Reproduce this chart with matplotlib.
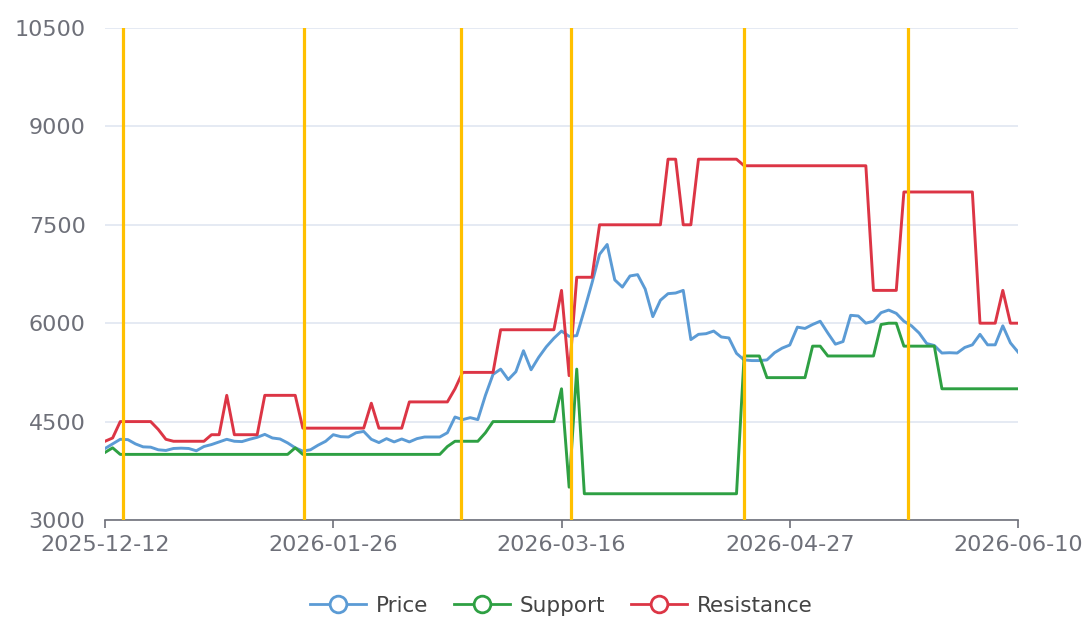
#! /usr/bin/env python
"""Price with support / resistance bands and signal markers."""

import matplotlib
matplotlib.use("Agg")
import matplotlib.pyplot as plt
from matplotlib.lines import Line2D

# Category axis: one point per trading day, labels every 30 days
tick_index = [0, 30, 60, 90, 120]
tick_labels = ["2025-12-12", "2026-01-26", "2026-03-16", "2026-04-27", "2026-06-10"]

price = [
    4090, 4160, 4230, 4225, 4160, 4115, 4110, 4070, 4060, 4090,
    4095, 4090, 4055, 4120, 4150, 4190, 4230, 4200, 4195, 4230,
    4260, 4305, 4250, 4235, 4175, 4100, 4050, 4070, 4140, 4200,
    4300, 4270, 4265, 4330, 4350, 4230, 4180, 4240, 4190, 4235,
    4190, 4240, 4265, 4265, 4265, 4330, 4570, 4530, 4560, 4530,
    4900, 5220, 5300, 5140, 5260, 5580, 5290, 5480, 5640, 5770,
    5880, 5800, 5810, 6200, 6610, 7050, 7200, 6660, 6550, 6720,
    6740, 6520, 6100, 6350, 6450, 6460, 6500, 5750, 5830, 5840,
    5880, 5790, 5775, 5540, 5440, 5430, 5430, 5440, 5550, 5620,
    5667, 5940, 5920, 5980, 6030, 5850, 5680, 5720, 6120, 6110,
    6000, 6030, 6160, 6200, 6150, 6030, 5960, 5850, 5690, 5660,
    5545, 5550, 5545, 5630, 5670, 5830, 5670, 5670, 5960, 5700,
    5560,
]

support = [
    4030, 4100, 4000, 4000, 4000, 4000, 4000, 4000, 4000, 4000,
    4000, 4000, 4000, 4000, 4000, 4000, 4000, 4000, 4000, 4000,
    4000, 4000, 4000, 4000, 4000, 4100, 4000, 4000, 4000, 4000,
    4000, 4000, 4000, 4000, 4000, 4000, 4000, 4000, 4000, 4000,
    4000, 4000, 4000, 4000, 4000, 4120, 4200, 4200, 4200, 4200,
    4330, 4500, 4500, 4500, 4500, 4500, 4500, 4500, 4500, 4500,
    5000, 3500, 5300, 3400, 3400, 3400, 3400, 3400, 3400, 3400,
    3400, 3400, 3400, 3400, 3400, 3400, 3400, 3400, 3400, 3400,
    3400, 3400, 3400, 3400, 5500, 5500, 5500, 5170, 5170, 5170,
    5170, 5170, 5170, 5650, 5650, 5500, 5500, 5500, 5500, 5500,
    5500, 5500, 5980, 6000, 6000, 5650, 5650, 5650, 5650, 5650,
    5000, 5000, 5000, 5000, 5000, 5000, 5000, 5000, 5000, 5000,
    5000,
]

resistance = [
    4200, 4250, 4500, 4500, 4500, 4500, 4500, 4380, 4230, 4200,
    4200, 4200, 4200, 4200, 4300, 4300, 4900, 4300, 4300, 4300,
    4300, 4900, 4900, 4900, 4900, 4900, 4400, 4400, 4400, 4400,
    4400, 4400, 4400, 4400, 4400, 4780, 4400, 4400, 4400, 4400,
    4800, 4800, 4800, 4800, 4800, 4800, 5000, 5250, 5250, 5250,
    5250, 5250, 5900, 5900, 5900, 5900, 5900, 5900, 5900, 5900,
    6500, 5200, 6700, 6700, 6700, 7500, 7500, 7500, 7500, 7500,
    7500, 7500, 7500, 7500, 8500, 8500, 7500, 7500, 8500, 8500,
    8500, 8500, 8500, 8500, 8400, 8400, 8400, 8400, 8400, 8400,
    8400, 8400, 8400, 8400, 8400, 8400, 8400, 8400, 8400, 8400,
    8400, 6500, 6500, 6500, 6500, 8000, 8000, 8000, 8000, 8000,
    8000, 8000, 8000, 8000, 8000, 6000, 6000, 6000, 6500, 6000,
    6000,
]

# Signal days (category positions) shown as vertical markers
signal_index = [2.4, 26.1, 46.8, 61.2, 84.0, 105.5]

y_ticks = [3000, 4500, 6000, 7500, 9000, 10500]

COLORS = {"Price": "#5B9BD5", "Support": "#2EA043", "Resistance": "#DC3545"}
AXIS_GREY = "#6E7079"


def main():
    fig = plt.figure(figsize=(10.86, 6.18), dpi=100)
    ax = fig.add_axes([0.0967, 0.1586, 0.8407, 0.7961])

    x = list(range(len(price)))
    for name, values in (("Price", price), ("Support", support),
                         ("Resistance", resistance)):
        ax.plot(x, values, color=COLORS[name], lw=2.1,
                solid_joinstyle="round", zorder=3)

    for xi in signal_index:
        ax.axvline(xi, color="#FFC000", lw=2.3, zorder=4)

    ax.set_xlim(0, len(price) - 1)
    ax.set_ylim(y_ticks[0], y_ticks[-1])
    ax.set_yticks(y_ticks)
    ax.set_xticks(tick_index, tick_labels)
    ax.yaxis.grid(True, color="#E0E6F1", lw=1.2)
    ax.set_axisbelow(True)

    for side in ("top", "right", "left"):
        ax.spines[side].set_visible(False)
    ax.spines["bottom"].set_color(AXIS_GREY)
    ax.spines["bottom"].set_linewidth(1.2)

    ax.tick_params(axis="y", length=0, pad=14, labelsize=16,
                   labelcolor=AXIS_GREY)
    ax.tick_params(axis="x", length=6, width=1.2, color=AXIS_GREY, pad=5,
                   labelsize=16, labelcolor=AXIS_GREY)

    handles = [
        Line2D([0], [0], color=COLORS[n], lw=2.0, marker="o", markersize=12,
               markerfacecolor="white", markeredgewidth=2.0, label=n)
        for n in ("Price", "Support", "Resistance")
    ]
    fig.legend(handles=handles, loc="lower center", ncol=3,
               bbox_to_anchor=(0.517, -0.028), frameon=False, fontsize=15.5,
               handlelength=2.6, handletextpad=0.45, columnspacing=1.2,
               labelcolor="#444444")

    fig.savefig("out.png", dpi=100)


if __name__ == "__main__":
    main()
